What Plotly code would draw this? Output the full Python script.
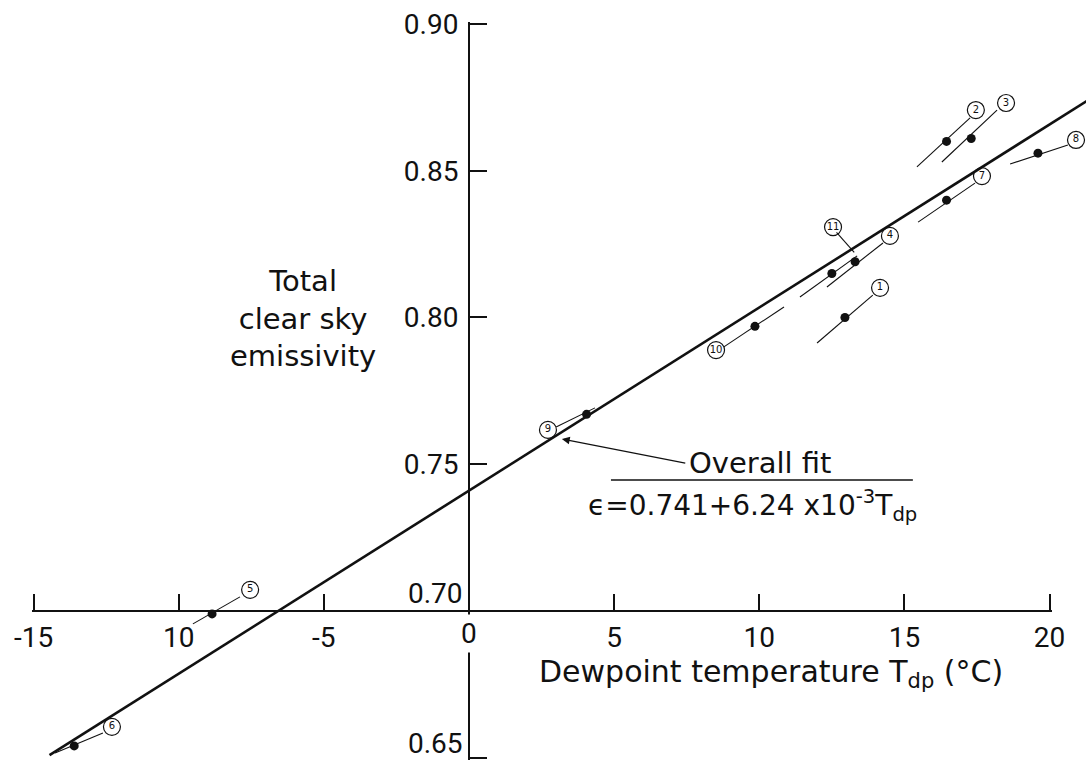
import plotly.graph_objects as go

# Dewpoint temperature (°C) and total clear-sky emissivity for each data set
set_ids = ["1", "2", "3", "4", "5", "6", "7", "8", "9", "10", "11"]
t_dp = [12.95, 16.45, 17.3, 13.3, -8.85, -13.6, 16.45, 19.6, 4.05, 9.85, 12.5]
emiss = [0.800, 0.860, 0.861, 0.819, 0.699, 0.654, 0.840, 0.856, 0.767, 0.797, 0.815]

# Short per-set trend segments through each point (low end / high end)
seg_t_lo = [11.99, 15.43, 16.29, 12.33, -9.51, -14.26, 15.47, 18.64, 3.0, 8.78, 11.40]
seg_e_lo = [0.7913, 0.8513, 0.8530, 0.8104, 0.6956, 0.6516, 0.8325, 0.8523, 0.7627, 0.7900, 0.8070]
seg_t_hi = [13.91, 17.26, 18.19, 14.26, -7.89, -12.61, 17.43, 20.63, 4.34, 10.85, 13.37]
seg_e_hi = [0.8076, 0.8680, 0.8707, 0.8254, 0.7048, 0.6584, 0.8458, 0.8588, 0.7692, 0.8036, 0.8210]

# Circled set-number label placements
lab_t = [14.16, 17.46, 18.50, 14.50, -7.54, -12.30, 17.67, 20.91, 2.72, 8.51, 12.54]
lab_e = [0.8101, 0.8707, 0.8731, 0.8278, 0.7072, 0.6605, 0.8482, 0.8605, 0.7617, 0.7889, 0.8308]

# Overall fit: eps = 0.741 + 6.24e-3 * Tdp
fit_a = 0.741
fit_b = 6.24e-3
fit_t = [-14.45, 21.6]
fit_e = [fit_a + fit_b * t for t in fit_t]

# Axis ticks (0 on x, 0.70 and 0.65 on y are labelled separately)
x_ticks = [-15, -10, -5, 5, 10, 15, 20]
x_tick_text = ["-15", "10", "-5", "5", "10", "15", "20"]
y_ticks = [0.75, 0.80, 0.85, 0.90]
y_tick_text = ["0.75", "0.80", "0.85", "0.90"]
y_bottom_tick = [0.65]
x_span = [-15, 20]
y_span = [0.65, 0.90]

W, H = 1086, 765
X_RANGE = [-16.156, 21.254]
Y_RANGE = [0.6475, 0.9082]
NUM_FONT = "Roboto"
TXT_FONT = "DejaVu Sans"
INK = "#111111"


def xfrac(v):
    return (v - X_RANGE[0]) / (X_RANGE[1] - X_RANGE[0])


def yfrac(v):
    return (v - Y_RANGE[0]) / (Y_RANGE[1] - Y_RANGE[0])


# pad the drawn axes by ~2 px so plotly keeps the inside ticks at the ends
xpad, ypad = 0.07, 0.0007
x_axis_range = [x_span[0] - xpad, x_span[1] + xpad]
y_axis_range = [y_span[0] - ypad, y_span[1] + ypad]

fig = go.Figure()

# overall fit line
fig.add_trace(go.Scatter(x=fit_t, y=fit_e, mode="lines",
                         line=dict(color=INK, width=2.6),
                         hoverinfo="skip", showlegend=False))

# per-set segments
for i in range(len(set_ids)):
    fig.add_trace(go.Scatter(x=[seg_t_lo[i], seg_t_hi[i]], y=[seg_e_lo[i], seg_e_hi[i]],
                             mode="lines", line=dict(color=INK, width=1.1),
                             hoverinfo="skip", showlegend=False))

# leader from label 11 to its segment
fig.add_trace(go.Scatter(x=[lab_t[10] + 0.12, seg_t_hi[10] - 0.1],
                         y=[lab_e[10] - 0.0018, seg_e_hi[10] + 0.0012],
                         mode="lines", line=dict(color=INK, width=1.1),
                         hoverinfo="skip", showlegend=False))

# data points
fig.add_trace(go.Scatter(x=t_dp, y=emiss, mode="markers",
                         marker=dict(color=INK, size=9),
                         hoverinfo="skip", showlegend=False))

# circled set numbers
fig.add_trace(go.Scatter(x=lab_t, y=lab_e, mode="markers+text",
                         text=set_ids, textposition="middle center",
                         textfont=dict(family=TXT_FONT, size=10, color=INK),
                         marker=dict(symbol="circle-open", size=17, color=INK,
                                     line=dict(width=1.2, color=INK)),
                         cliponaxis=False, hoverinfo="skip", showlegend=False))

# placeholder trace that carries the drawn axes
fig.add_trace(go.Scatter(x=[None], y=[None], xaxis="x2", yaxis="y2",
                         hoverinfo="skip", showlegend=False))

num_font = dict(family=NUM_FONT, size=28, color=INK)
txt_font = dict(family=TXT_FONT, size=29, color=INK)

fig.update_layout(
    width=W, height=H,
    margin=dict(l=0, r=0, t=0, b=0, pad=0, autoexpand=False),
    paper_bgcolor="white", plot_bgcolor="rgba(0,0,0,0)",
    xaxis=dict(range=X_RANGE, domain=[0, 1], visible=False, fixedrange=True),
    yaxis=dict(range=Y_RANGE, domain=[0, 1], visible=False, fixedrange=True),
    xaxis2=dict(range=x_axis_range,
                domain=[xfrac(x_axis_range[0]), xfrac(x_axis_range[1])],
                anchor="free", position=yfrac(0.70), side="bottom",
                showline=True, linecolor=INK, linewidth=2,
                ticks="inside", ticklen=16, tickwidth=1.5, tickcolor=INK,
                tickvals=x_ticks, ticktext=x_tick_text, tickfont=num_font,
                ticklabelstandoff=1, ticklabeloverflow="allow",
                showgrid=False, zeroline=False, automargin=False, fixedrange=True),
    yaxis2=dict(range=y_axis_range,
                domain=[yfrac(y_axis_range[0]), yfrac(y_axis_range[1])],
                anchor="free", position=xfrac(0), side="left",
                showline=True, linecolor=INK, linewidth=2,
                ticks="inside", ticklen=17, tickwidth=1.5, tickcolor=INK,
                tickvals=y_ticks, ticktext=y_tick_text, tickfont=num_font,
                ticklabelstandoff=4, ticklabeloverflow="allow",
                minor=dict(tickvals=y_bottom_tick, ticks="inside", ticklen=17,
                           tickwidth=1.5, tickcolor=INK, showgrid=False),
                showgrid=False, zeroline=False, automargin=False, fixedrange=True),
)

# labels at the axis crossing and the bottom of the vertical axis
fig.add_annotation(x=0, y=0.70, xref="x", yref="y", text="0.70", showarrow=False,
                   xanchor="right", yanchor="bottom", xshift=-4, yshift=-1,
                   font=num_font)
fig.add_annotation(x=0, y=0.70, xref="x", yref="y", text="0", showarrow=False,
                   xanchor="center", yanchor="top", yshift=-3, bgcolor="white",
                   borderpad=2, font=num_font)
fig.add_annotation(x=0, y=0.65, xref="x", yref="y", text="0.65", showarrow=False,
                   xanchor="right", yanchor="bottom", xshift=-4, yshift=-4,
                   font=num_font)

# axis titles
fig.add_annotation(x=-5.72, y=0.7998, xref="x", yref="y",
                   text="Total<br>clear sky<br>emissivity", showarrow=False,
                   align="center", font=txt_font)
fig.add_annotation(x=2.35, y=0.6788, xref="x", yref="y",
                   text="Dewpoint temperature T<sub>dp</sub> (°C)", showarrow=False,
                   xanchor="left", yanchor="middle",
                   font=dict(family=TXT_FONT, size=30, color=INK))

# fit label with arrow to the line
fig.add_annotation(x=3.2, y=0.7586, ax=7.45, ay=0.7504, xref="x", yref="y",
                   axref="x", ayref="y", text="Overall fit", showarrow=True,
                   xanchor="left", yanchor="middle", standoff=0, borderpad=3,
                   arrowhead=2, arrowsize=1.3, arrowwidth=1.2, arrowcolor=INK,
                   font=txt_font)
fig.add_shape(type="line", xref="x", yref="y", x0=4.89, x1=15.29, y0=0.7446, y1=0.7446,
              line=dict(color=INK, width=1.5))
fig.add_annotation(x=9.75, y=0.7361, xref="x", yref="y",
                   text="ϵ=0.741+6.24 x10<sup>-3</sup>T<sub>dp</sub>", showarrow=False,
                   xanchor="center", yanchor="middle",
                   font=dict(family=TXT_FONT, size=28, color=INK))

fig.write_html("out.html")
